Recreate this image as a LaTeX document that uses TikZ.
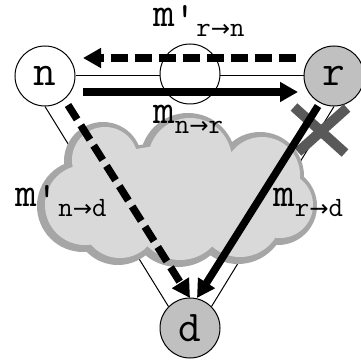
\documentclass[tikz,border=0pt]{standalone}
\usepackage{fontspec}
\newfontfamily\arrowfont{DejaVu Sans}
\usetikzlibrary{arrows.meta}

\definecolor{cloudfill}{HTML}{D9D9D9}
\definecolor{cloudedge}{HTML}{A6A6A6}
\definecolor{peergray}{HTML}{C0C0C0}
\definecolor{crossgray}{HTML}{595959}

\newcommand{\msgsub}[1]{\raisebox{-10pt}{\fontsize{28}{28}\selectfont#1}}
\newcommand{\toarr}{{\arrowfont\fontsize{23}{23}\selectfont →}}
\newcommand{\dash}{\raisebox{-5pt}{'}}

\begin{document}
\begin{tikzpicture}[x=1pt, y=1pt,
          every node/.style={font=\ttfamily\fontsize{42}{42}\selectfont, inner sep=0pt},
          peer/.style={circle, draw, line width=1pt, minimum size=60pt,
            font=\ttfamily\fontsize{44}{44}\selectfont},
          link/.style={line width=1pt},
          msg/.style={line width=7.5pt, -{Triangle[length=18pt, width=19pt]}},
          lost/.style={msg, dash pattern=on 17pt off 7pt},
          cross/.style={line width=10pt, crossgray},
        ]
          \useasboundingbox (0,0) rectangle (361,362);
          % peers
          \node[peer, fill=white]    (n) at ( 45, 286) {n};
          \node[peer, fill=peergray] (r) at (334, 286) {r};
          \node[peer, fill=peergray] (d) at (190,  34) {d};
          % links
          \draw[link] (n.east)  -- (r.west);
          \draw[link] (n.south) -- (d.north west);
          \draw[link] (r.south) -- (d.north east);
          \node[peer, fill=white] (m) at (190, 288) {};
          % network cloud
          \def\puffs{105/202/33, 190/202/42, 262/187/38, 280/157/33,
                     85/157/40, 120/142/38, 180/147/45, 240/147/42}
          \foreach \cx/\cy/\cr in \puffs
            \fill[cloudedge] (\cx-2, \cy-1) circle ({\cr+6});
          \fill[cloudedge] (176, 171) ellipse (104 and 49);
          \foreach \cx/\cy/\cr in \puffs
            \fill[cloudfill] (\cx, \cy) circle (\cr);
          \fill[cloudfill] (178, 172) ellipse (100 and 45);
          % broken path
          \coordinate (x1) at (294, 255);
          \coordinate (x2) at (345, 209);
          \coordinate (x3) at (347, 254);
          \coordinate (x4) at (298, 210);
          \draw[cross] (x1) -- (x2);
          \draw[cross] (x3) -- (x4);
          % messages
          \coordinate (rn0) at (296, 304);
          \coordinate (rn1) at ( 83, 304);
          \coordinate (nr0) at ( 83, 270);
          \coordinate (nr1) at (298, 270);
          \coordinate (nd0) at ( 68, 257);
          \coordinate (nd1) at (190,  64);
          \coordinate (rd0) at (318, 256);
          \coordinate (rd1) at (197,  64);
          \draw[lost] (rn0) -- (rn1);
          \draw[msg]  (nr0) -- (nr1);
          \draw[lost] (nd0) -- (nd1);
          \draw[msg]  (rd0) -- (rd1);
          \node[anchor=base west] (lrn) at (153, 335) {m\dash\msgsub{r\toarr n}};
          \node[anchor=base west] (lnr) at (153, 238) {m\msgsub{n\toarr r}};
          \node[anchor=base west] (lnd) at ( 15, 155) {m\dash\msgsub{n\toarr d}};
          \node[anchor=base west] (lrd) at (273, 155) {m\msgsub{r\toarr d}};
        \end{tikzpicture}
\end{document}
